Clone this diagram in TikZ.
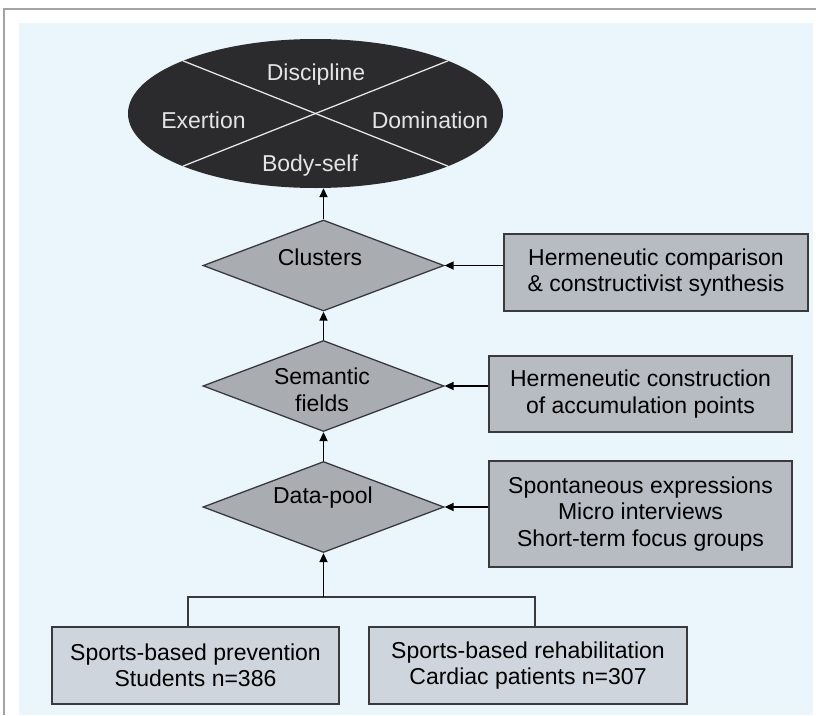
\documentclass[tikz,border=0pt]{standalone}
\usepackage{fontspec}
\setmainfont{Liberation Sans}
\usetikzlibrary{shapes.geometric,arrows.meta,calc}
\definecolor{bgblue}{HTML}{EBF5FC}
\definecolor{framegray}{HTML}{A3A3A3}
\definecolor{ellfill}{HTML}{2B2B2D}
\definecolor{ellline}{HTML}{E4E4E4}
\definecolor{diafill}{HTML}{A9ADB2}
\definecolor{sidefill}{HTML}{B7BCC2}
\definecolor{basefill}{HTML}{CFD5DC}
\definecolor{edge}{HTML}{3A3A3C}
\tikzset{
  txt/.style={font=\fontsize{23}{26.5}\selectfont, align=center, inner sep=0pt},
  elltxt/.style={txt, text=ellline},
  dia/.style={diamond, draw=edge, line width=1.3pt, fill=diafill, minimum width=241pt, minimum height=91pt, inner sep=0pt},
  sidebox/.style={rectangle, draw=edge, line width=1.6pt, fill=sidefill, txt},
  basebox/.style={rectangle, draw=edge, line width=1.6pt, fill=basefill, txt},
  arr/.style={draw=black, line width=1.7pt, -{Triangle[length=9pt,width=8pt]}},
  conn/.style={draw=edge, line width=1.6pt}
}
\begin{document}
\begin{tikzpicture}[x=1pt,y=-1pt]
\useasboundingbox (0,0) rectangle (816,715);
\fill[bgblue] (19,23) rectangle (813,715);
\draw[framegray, line width=2pt] (4,715) -- (4,9) -- (816,9);

% ellipse
\node[ellipse, fill=ellfill, minimum width=375pt, minimum height=149pt, inner sep=0pt] (E) at (315.5,113.5) {};
\draw[ellline, line width=1.3pt] ($(E.center)+(-132.6,-52.7)$) -- ($(E.center)+(132.6,52.7)$);
\draw[ellline, line width=1.3pt] ($(E.center)+(132.6,-52.7)$) -- ($(E.center)+(-132.6,52.7)$);
\node[elltxt] (t1) at (316,75) {Discipline};
\node[elltxt] (t2) at (203.5,120) {Exertion};
\node[elltxt] (t3) at (430,120) {Domination};
\node[elltxt] (t4) at (310,166) {Body-self};

% diamonds
\node[dia] (C) at (323.5,265.5) {};
\node[txt] (Ct) at (320,257) {Clusters};
\node[dia] (S) at (323.5,386) {};
\node[txt] (St) at (322,390) {Semantic\\fields};
\node[dia] (D) at (323.5,507) {};
\node[txt] (Dt) at (323,498) {Data-pool};

% side boxes
\node[sidebox, minimum width=304pt, minimum height=77pt] (B1) at (656,272.5) {Hermeneutic comparison\\\& constructivist synthesis};
\node[sidebox, minimum width=303pt, minimum height=76pt] (B2) at (640.5,394) {Hermeneutic construction\\of accumulation points};
\node[sidebox, minimum width=303pt, minimum height=106pt] (B3) at (640.5,514) {Spontaneous expressions\\Micro interviews\\Short-term focus groups};

% base boxes
\node[basebox, minimum width=287pt, minimum height=77pt] (L) at (195.5,665.5) {Sports-based prevention\\Students n=386};
\node[basebox, minimum width=318pt, minimum height=77pt] (R) at (528,665.5) {Sports-based rehabilitation\\Cardiac patients n=307};

% connectors
\draw[arr] (C.north) -- (E.south -| C.north);
\draw[arr] (S.north) -- (C.south);
\draw[arr] (D.north) -- (S.south);
\draw[arr] (B1.west |- C.east) -- (C.east);
\draw[arr] (B2.west |- S.east) -- (S.east);
\draw[arr] (B3.west |- D.east) -- (D.east);

\coordinate (lj) at ($(L.north)+(-7.5,0)$);
\coordinate (rj) at ($(R.north)+(7,0)$);
\coordinate (J) at (323.5,597);
\draw[conn] (lj) -- (lj |- J) -- (rj |- J) -- (rj);
\draw[arr] (J) -- (D.south);
\end{tikzpicture}
\end{document}
